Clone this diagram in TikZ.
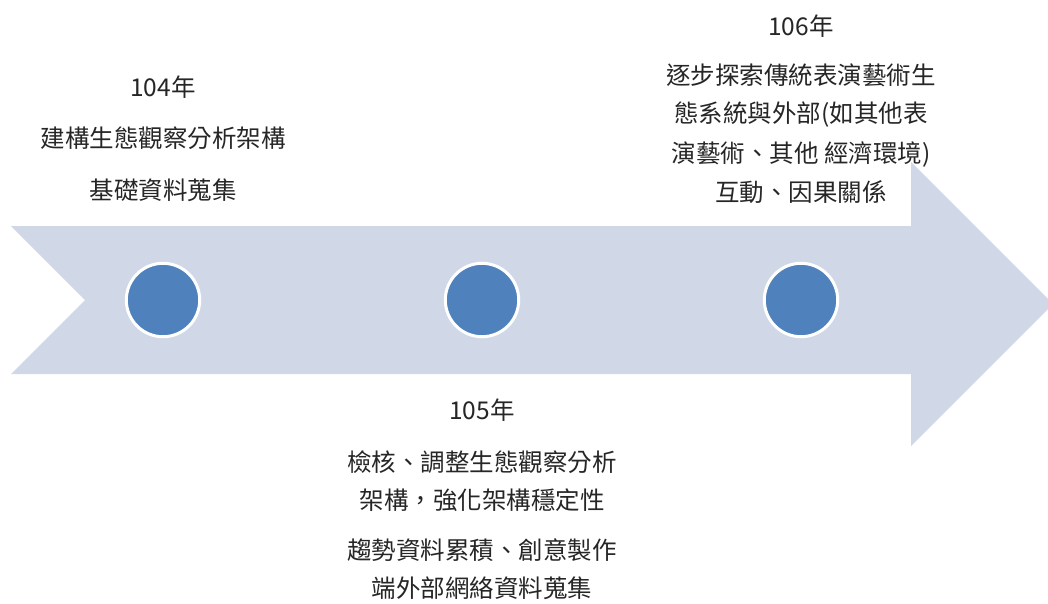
\documentclass[tikz,border=0pt]{standalone}
\usepackage{fontspec}
\usepackage{tikz}
\usepackage{color}
\newfontfamily\cjk{Noto Sans CJK TC}
\definecolor{bandfill}{HTML}{D0D8E8}
\definecolor{dotfill}{HTML}{4F81BD}
\definecolor{inktext}{HTML}{262626}

\begin{document}
\begin{tikzpicture}[%
      x=1pt, y=-1pt,
      dot/.style={circle, fill=dotfill, draw=white, line width=3pt,
                  minimum size=73.4pt, inner sep=0pt},
      txt/.style={anchor=base, inner sep=0pt, text=inktext,
                  font=\cjk\fontsize{24.5}{28}\selectfont},
      ]
      \useasboundingbox (0,0) rectangle (1048,603);
      \clip (0,0) rectangle (1048,603);

      % band with arrow head
      \fill [bandfill] (11,226) -- (911,226) -- (911,162) -- (1053,304)
            -- (911,446) -- (911,374) -- (11,374) -- (85,300) -- cycle;

      \node [dot] (c104) at (163,300) {};
      \node [dot] (c105) at (482,300) {};
      \node [dot] (c106) at (801,300) {};

      % 104
      \node [txt] (y104) at (163,96) {104年};
      \node [txt] (t104a) at (163,147) {建構生態觀察分析架構};
      \node [txt] (t104b) at (163,199) {基礎資料蒐集};

      % 105
      \node [txt] (y105) at (482,419) {105年};
      \node [txt] (t105a) at (482,471) {檢核、調整生態觀察分析};
      \node [txt] (t105b) at (482,509) {架構，強化架構穩定性};
      \node [txt] (t105c) at (482,559) {趨勢資料累積、創意製作};
      \node [txt] (t105d) at (482,597) {端外部網絡資料蒐集};

      % 106
      \node [txt] (y106) at (801,35) {106年};
      \node [txt] (t106a) at (801,84) {逐步探索傳統表演藝術生};
      \node [txt] (t106b) at (801,122) {態系統與外部(如其他表};
      \node [txt] (t106c) at (801,162) {演藝術、其他 經濟環境)};
      \node [txt] (t106d) at (801,201) {互動、因果關係};
\end{tikzpicture}
\end{document}
